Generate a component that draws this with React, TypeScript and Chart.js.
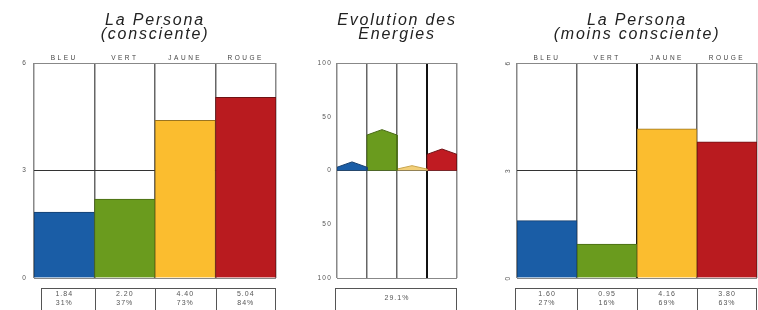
import React, { useEffect, useRef } from 'react';
import { Chart, registerables } from 'chart.js';

Chart.register(...registerables);

// ---------- data ----------
const categories = ['BLEU', 'VERT', 'JAUNE', 'ROUGE'];
const consciousValues = [1.84, 2.2, 4.4, 5.04];
const consciousPercents = ['31%', '37%', '73%', '84%'];
const lessConsciousValues = [1.6, 0.95, 4.16, 3.8];
const lessConsciousPercents = ['27%', '16%', '69%', '63%'];
const evolutionValues = [8, 38, 4.5, 20];
const evolutionTotal = '29.1%';
const personaTicks = [0, 3, 6];
const evolutionTicks = [-100, -50, 0, 50, 100];
const titleConscious = ['La Persona', '(consciente)'];
const titleEvolution = ['Evolution des', 'Energies'];
const titleLess = ['La Persona', '(moins consciente)'];

// ---------- styles ----------
const FONT = '"Liberation Sans", Arial, sans-serif';
const barColors = ['#1a5da6', '#6a9b1e', '#fbbd2f', '#b91b1f'];
const barBorders = ['#163f6e', '#486a14', '#9a7420', '#6e1214'];
const evoColors = ['#1a5da6', '#6a9b1e', '#f2cf78', '#c01b22'];
const evoBorders = ['#163f6e', '#486a14', '#c9a54c', '#701216'];
const ARROW_HEAD = 5;

function decorPlugin(
  id: string,
  title: string[],
  cells: string[][] | null,
  single: string | null,
  inset: number,
  showCats: boolean
) {
  return {
    id,
    beforeDraw(chart: any) {
      chart.ctx.letterSpacing = '1.2px';
    },
    afterDraw(chart: any) {
      const { ctx, chartArea } = chart;
      const xs = chart.scales.x;
      ctx.save();
      const cx = (chartArea.left + chartArea.right) / 2;
      // titles
      ctx.fillStyle = '#222';
      ctx.font = `italic 16px ${FONT}`;
      ctx.letterSpacing = '1.8px';
      ctx.textAlign = 'center';
      ctx.textBaseline = 'alphabetic';
      title.forEach((t, i) => ctx.fillText(t, cx, 25 + i * 14));
      // category labels
      if (showCats) {
        ctx.font = `6.5px ${FONT}`;
        ctx.letterSpacing = '2.5px';
        ctx.fillStyle = '#444';
        ctx.textBaseline = 'middle';
        categories.forEach((c, i) => ctx.fillText(c, xs.getPixelForValue(i), 58));
      }
      // table
      const top = 288;
      const bottom = 320;
      ctx.strokeStyle = '#555';
      ctx.lineWidth = 1;
      ctx.font = `7px ${FONT}`;
      ctx.letterSpacing = '1px';
      ctx.fillStyle = '#555';
      ctx.textBaseline = 'middle';
      if (cells) {
        const left = Math.round(xs.getPixelForValue(-0.5) + inset) + 0.5;
        const right = Math.round(xs.getPixelForValue(categories.length - 0.5)) - 0.5;
        ctx.strokeRect(left, top + 0.5, right - left, bottom - top);
        for (let i = 1; i < categories.length; i++) {
          const bx = Math.round(xs.getPixelForValue(i - 0.5)) + 0.5;
          ctx.beginPath();
          ctx.moveTo(bx, top);
          ctx.lineTo(bx, bottom);
          ctx.stroke();
        }
        cells.forEach((lines, i) => {
          const px = xs.getPixelForValue(i);
          lines.forEach((l, j) => ctx.fillText(l, px, 294 + j * 9));
        });
      } else if (single) {
        const left = Math.round(chartArea.left - 2) + 0.5;
        const right = Math.round(chartArea.right) - 0.5;
        ctx.strokeRect(left, top + 0.5, right - left, bottom - top);
        ctx.fillText(single, cx, 298);
      }
      ctx.restore();
    },
  };
}

function barConfig(
  values: number[],
  percents: string[],
  title: string[],
  pad: { left: number; right: number },
  yWidth: number,
  thickIndex: number,
  rotate: boolean,
  inset: number,
  id: string
): any {
  const cells = values.map((v, i) => [v.toFixed(2), percents[i]]);
  return {
    type: 'bar',
    data: {
      labels: categories,
      datasets: [
        {
          data: values,
          backgroundColor: barColors,
          borderColor: barBorders,
          borderWidth: 1,
          categoryPercentage: 1,
          barPercentage: 1,
        },
      ],
    },
    options: {
      responsive: false,
      animation: false,
      layout: { padding: { top: 63, bottom: 32, left: pad.left, right: pad.right } },
      plugins: { legend: { display: false }, tooltip: { enabled: false }, title: { display: false } },
      scales: {
        x: {
          z: 1,
          grid: {
            offset: true,
            drawTicks: false,
            color: (c: any) =>
              c.index === undefined || c.index === 0 ? '#888' : c.index === thickIndex ? '#111' : '#666',
            lineWidth: (c: any) => (c.index === thickIndex ? 2 : 1.5),
          },
          ticks: { display: false },
          border: { display: false },
          afterFit: (s: any) => {
            s.height = 0;
          },
        },
        y: {
          z: 1,
          min: 0,
          max: 6,
          afterBuildTicks: (s: any) => {
            s.ticks = personaTicks.map((v) => ({ value: v }));
          },
          grid: {
            drawTicks: false,
            color: (c: any) => (c.tick && c.tick.value === 3 ? '#333' : '#888'),
            lineWidth: 1,
          },
          ticks: {
            font: { size: 6.5, family: FONT },
            color: '#555',
            padding: 7,
            minRotation: rotate ? 90 : 0,
            maxRotation: rotate ? 90 : 0,
            crossAlign: rotate ? 'center' : 'near',
          },
          border: { display: false },
          afterFit: (s: any) => {
            s.width = yWidth;
          },
        },
      },
    },
    plugins: [decorPlugin(id, title, cells, null, inset, true)],
  };
}

function housePoints(i: number, v: number) {
  const shoulder = Math.max(v - ARROW_HEAD, v * 0.3);
  return [
    { x: i, y: 0 },
    { x: i, y: shoulder },
    { x: i + 0.5, y: v },
    { x: i + 1, y: shoulder },
    { x: i + 1, y: 0 },
  ];
}

function evolutionConfig(): any {
  return {
    type: 'line',
    data: {
      datasets: evolutionValues.map((v, i) => ({
        data: housePoints(i, v),
        fill: 'origin',
        backgroundColor: evoColors[i],
        borderColor: evoBorders[i],
        borderWidth: 1,
        pointRadius: 0,
        tension: 0,
      })),
    },
    options: {
      responsive: false,
      animation: false,
      layout: { padding: { top: 63, bottom: 32, left: 0, right: 23 } },
      plugins: { legend: { display: false }, tooltip: { enabled: false }, title: { display: false } },
      scales: {
        x: {
          type: 'linear',
          z: 1,
          min: 0,
          max: categories.length,
          afterBuildTicks: (s: any) => {
            s.ticks = categories.map((_, i) => ({ value: i })).concat([{ value: categories.length }]);
          },
          grid: {
            drawTicks: false,
            color: (c: any) => {
              const v = c.tick ? c.tick.value : 0;
              return v === 0 || v === 4 ? '#888' : v === 3 ? '#111' : '#666';
            },
            lineWidth: (c: any) => (c.tick && c.tick.value === 3 ? 2 : 1.5),
          },
          ticks: { display: false },
          border: { display: false },
          afterFit: (s: any) => {
            s.height = 0;
          },
        },
        y: {
          z: 1,
          min: -100,
          max: 100,
          afterBuildTicks: (s: any) => {
            s.ticks = evolutionTicks.map((v) => ({ value: v }));
          },
          grid: {
            drawTicks: false,
            color: (c: any) => {
              const v = c.tick ? c.tick.value : 0;
              return v === 0 ? '#333' : Math.abs(v) === 100 ? '#888' : 'rgba(0,0,0,0)';
            },
          },
          ticks: {
            font: { size: 6.5, family: FONT },
            color: '#555',
            padding: 5,
            callback: (v: any) => String(Math.abs(Number(v))),
          },
          border: { display: false },
          afterFit: (s: any) => {
            s.width = 57;
          },
        },
      },
    },
    plugins: [decorPlugin('decorEvo', titleEvolution, null, evolutionTotal, 0, false)],
  };
}

export default function App() {
  const leftRef = useRef<HTMLCanvasElement>(null);
  const midRef = useRef<HTMLCanvasElement>(null);
  const rightRef = useRef<HTMLCanvasElement>(null);

  useEffect(() => {
    const charts: Chart[] = [];
    if (leftRef.current)
      charts.push(
        new Chart(
          leftRef.current,
          barConfig(consciousValues, consciousPercents, titleConscious, { left: 0, right: 4 }, 34, -1, false, 7, 'decorLeft')
        )
      );
    if (midRef.current) charts.push(new Chart(midRef.current, evolutionConfig()));
    if (rightRef.current)
      charts.push(
        new Chart(
          rightRef.current,
          barConfig(lessConsciousValues, lessConsciousPercents, titleLess, { left: 0, right: 1 }, 37, 2, true, -2, 'decorRight')
        )
      );
    return () => charts.forEach((c) => c.destroy());
  }, []);

  const canvasStyle = (left: number): React.CSSProperties => ({
    position: 'absolute',
    left,
    top: 0,
    display: 'block',
  });

  return (
    <div style={{ position: 'absolute', left: 0, top: 0, width: 758, height: 310, background: '#fff', overflow: 'hidden' }}>
      <canvas ref={leftRef} width={280} height={310} style={canvasStyle(0)} />
      <canvas ref={midRef} width={200} height={310} style={canvasStyle(280)} />
      <canvas ref={rightRef} width={278} height={310} style={canvasStyle(480)} />
    </div>
  );
}
